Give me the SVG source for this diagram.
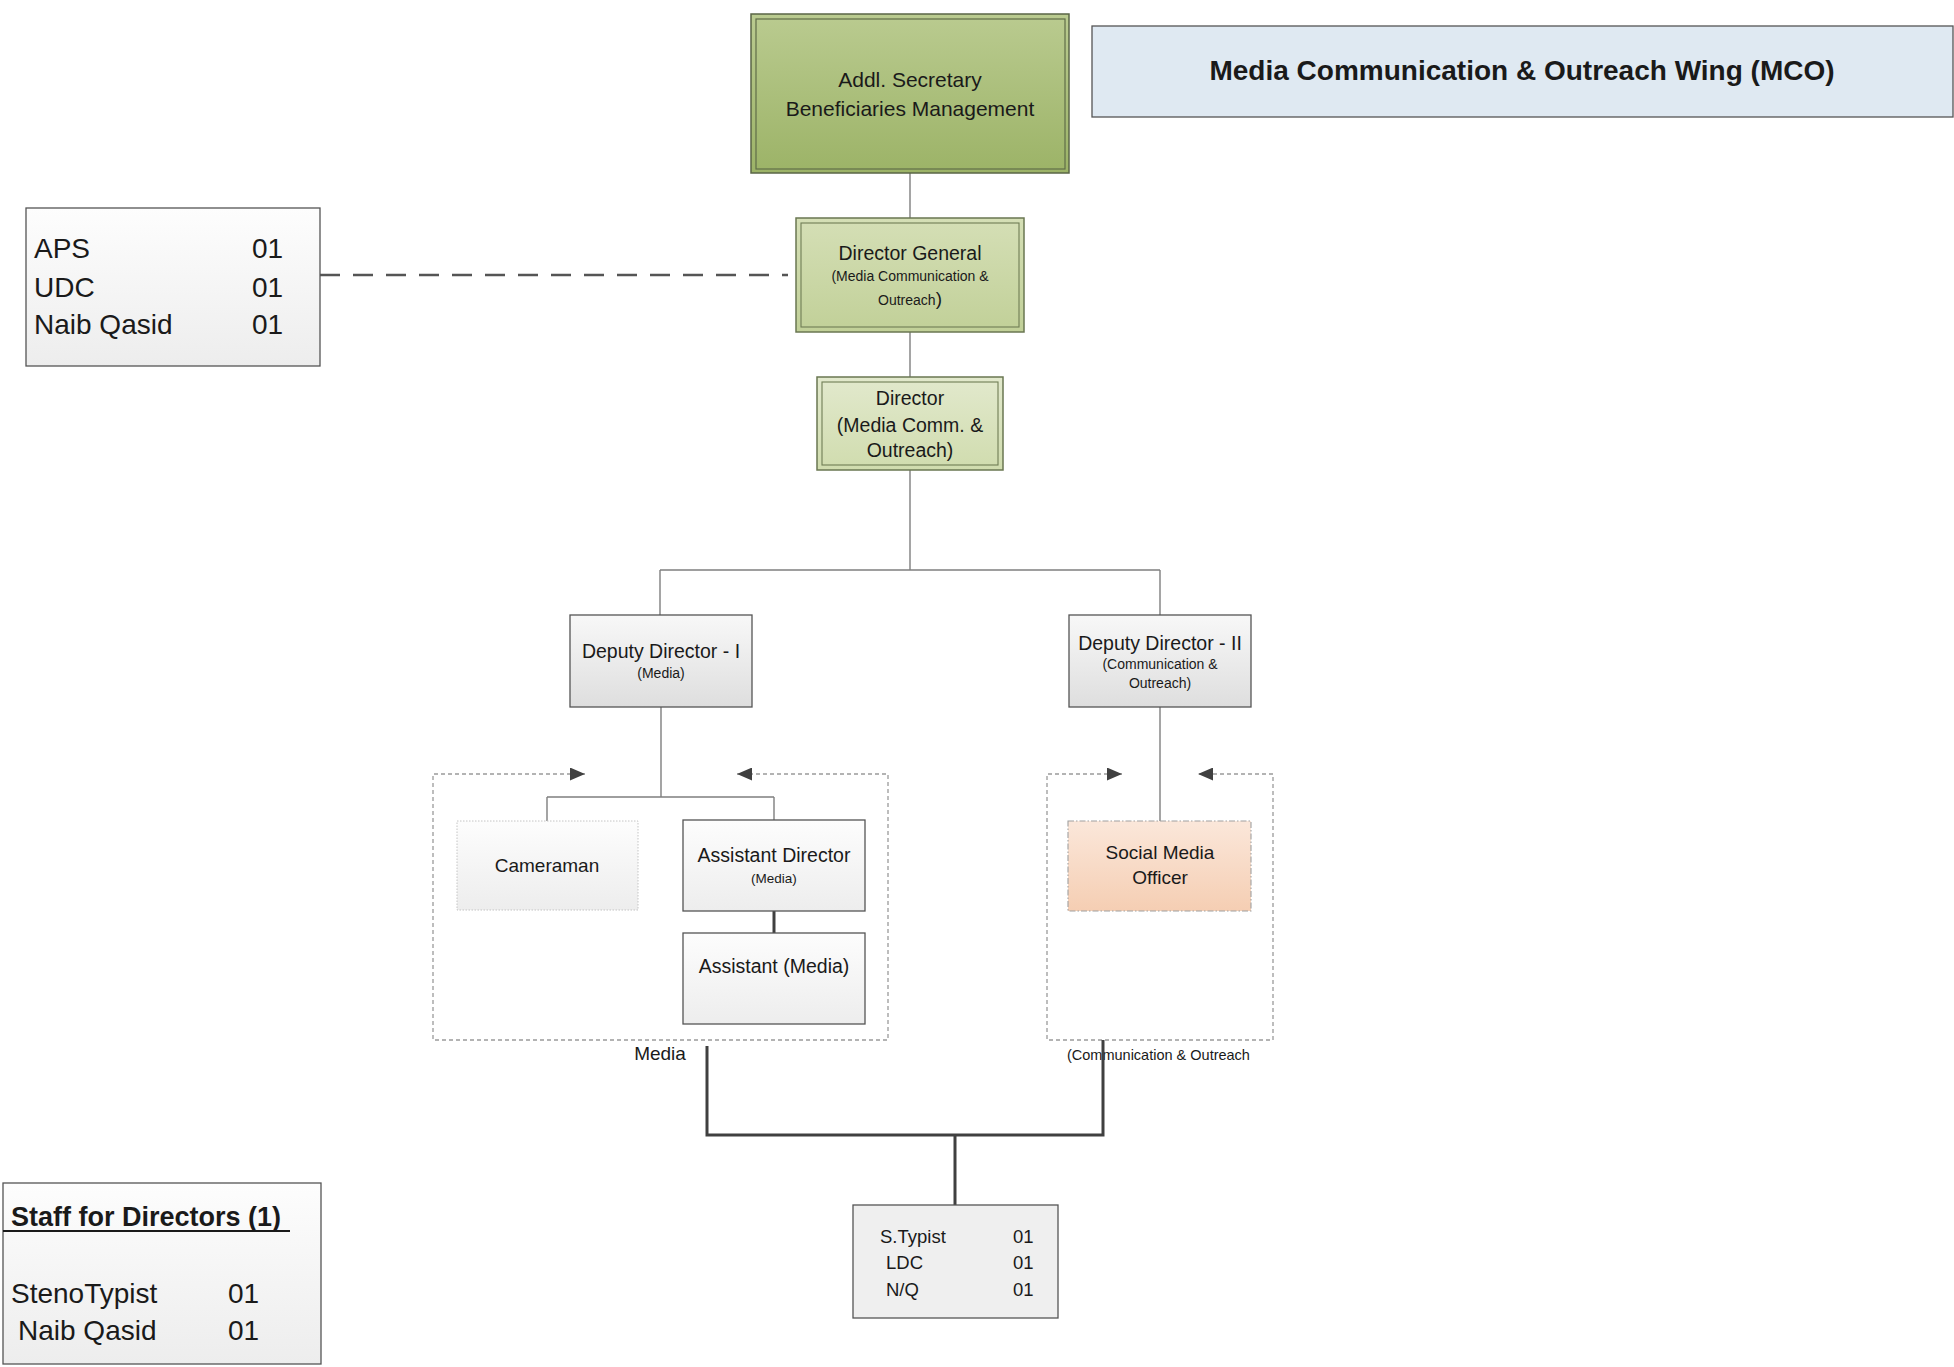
<svg xmlns="http://www.w3.org/2000/svg" width="1954" height="1367" viewBox="0 0 1954 1367">
<style>
text{font-family:"Liberation Sans",Arial,sans-serif;fill:#1a1a1a}
.c{text-anchor:middle}
.t19{font-size:19.5px}
.t14{font-size:14px}
.conn{fill:none;stroke:#7f7f7f;stroke-width:1.4}
.thick{fill:none;stroke:#404040;stroke-width:3}
.box{stroke:#555;stroke-width:1.3}
.grp{fill:none;stroke:#9a9a9a;stroke-width:1.3;stroke-dasharray:4 3}
</style>
<defs>
<linearGradient id="gTop" x1="0" y1="0" x2="0" y2="1"><stop offset="0" stop-color="#bacb90"/><stop offset="1" stop-color="#9cb367"/></linearGradient>
<linearGradient id="gDG" x1="0" y1="0" x2="0" y2="1"><stop offset="0" stop-color="#d5dfb6"/><stop offset="1" stop-color="#c1d098"/></linearGradient>
<linearGradient id="gDir" x1="0" y1="0" x2="0" y2="1"><stop offset="0" stop-color="#e2e9cd"/><stop offset="1" stop-color="#d0dcae"/></linearGradient>
<linearGradient id="gGray" x1="0" y1="0" x2="0" y2="1"><stop offset="0" stop-color="#f8f8f8"/><stop offset="1" stop-color="#dedede"/></linearGradient>
<linearGradient id="gLight" x1="0" y1="0" x2="0" y2="1"><stop offset="0" stop-color="#fdfdfd"/><stop offset="1" stop-color="#ededed"/></linearGradient>
<linearGradient id="gPeach" x1="0" y1="0" x2="0" y2="1"><stop offset="0" stop-color="#fbe7da"/><stop offset="1" stop-color="#f5ceb3"/></linearGradient>
<marker id="arr" markerUnits="userSpaceOnUse" markerWidth="15" markerHeight="13" refX="15" refY="6.5" orient="auto-start-reverse" viewBox="0 0 15 13">
<path d="M0,0 L15,6.5 L0,13 z" fill="#404040"/>
</marker>
</defs>
<rect width="1954" height="1367" fill="#fff"/>

<g id="title">
<rect x="1092" y="26" width="861" height="91" fill="#dfe9f2" stroke="#555" stroke-width="1.3"/>
<text x="1522" y="80" class="c" style="font-size:28px;font-weight:bold">Media Communication &amp; Outreach Wing (MCO)</text>
</g>

<g id="connectors">
<path class="conn" d="M910 173 V218 M910 332 V377 M910 470 V570 M660 570 H1160 M660 570 V615 M1160 570 V615"/>
<path class="conn" d="M661 707 V797 M547 797 H774 M547 797 V821 M774 797 V820"/>
<path class="conn" d="M1160 707 V821"/>
<path class="thick" d="M774 911 V933"/>
<path d="M320 275 H788" fill="none" stroke="#555" stroke-width="2.6" stroke-dasharray="20 13"/>
<path class="grp" d="M585 774 H433 V1040 H888 V774 H737" marker-start="url(#arr)" marker-end="url(#arr)"/>
<path class="grp" d="M1122 774 H1047 V1040 H1273 V774 H1198" marker-start="url(#arr)" marker-end="url(#arr)"/>
</g>

<g id="addl-secretary">
<rect x="751" y="14" width="318" height="159" fill="url(#gTop)" stroke="#5a6646" stroke-width="1.5"/>
<rect x="756" y="19" width="309" height="150" fill="none" stroke="#5f6d48" stroke-width="1.2"/>
<text x="910" y="87" class="c" style="font-size:21px">Addl. Secretary</text>
<text x="910" y="116" class="c" style="font-size:21px">Beneficiaries Management</text>
</g>

<g id="director-general">
<rect x="796" y="218" width="228" height="114" fill="url(#gDG)" stroke="#6a7752" stroke-width="1.5"/>
<rect x="801" y="223" width="218" height="104" fill="none" stroke="#6f7d55" stroke-width="1.1"/>
<text x="910" y="260" class="c" style="font-size:19.5px">Director General</text>
<text x="910" y="281" class="c t14">(Media Communication &amp;</text>
<text x="910" y="305" class="c t14">Outreach<tspan style="font-size:19px">)</tspan></text>
</g>

<g id="director">
<rect x="817" y="377" width="186" height="93" fill="url(#gDir)" stroke="#6a7752" stroke-width="1.5"/>
<rect x="822" y="382" width="176" height="83" fill="none" stroke="#6f7d55" stroke-width="1.1"/>
<text x="910" y="405" class="c t19">Director</text>
<text x="910" y="432" class="c t19">(Media Comm. &amp;</text>
<text x="910" y="457" class="c t19">Outreach)</text>
</g>

<g id="aps-box">
<rect x="26" y="208" width="294" height="158" fill="url(#gLight)" class="box"/>
<text x="34" y="258" style="font-size:28px">APS</text>
<text x="252" y="258" style="font-size:28px">01</text>
<text x="34" y="297" style="font-size:28px">UDC</text>
<text x="252" y="297" style="font-size:28px">01</text>
<text x="34" y="334" style="font-size:28px">Naib Qasid</text>
<text x="252" y="334" style="font-size:28px">01</text>
</g>

<g id="deputy-director-1">
<rect x="570" y="615" width="182" height="92" fill="url(#gGray)" class="box"/>
<text x="661" y="658" class="c t19">Deputy Director - I</text>
<text x="661" y="678" class="c t14">(Media)</text>
</g>

<g id="deputy-director-2">
<rect x="1069" y="615" width="182" height="92" fill="url(#gGray)" class="box"/>
<text x="1160" y="650" class="c t19">Deputy Director - II</text>
<text x="1160" y="669" class="c t14">(Communication &amp;</text>
<text x="1160" y="688" class="c t14">Outreach)</text>
</g>

<g id="cameraman">
<rect x="457" y="821" width="181" height="89" fill="url(#gLight)" stroke="#c4c4c4" stroke-width="1" stroke-dasharray="1.5 1.5"/>
<text x="547" y="872" class="c" style="font-size:19px">Cameraman</text>
</g>

<g id="assistant-director">
<rect x="683" y="820" width="182" height="91" fill="url(#gLight)" class="box"/>
<text x="774" y="862" class="c t19">Assistant Director</text>
<text x="774" y="883" class="c" style="font-size:13.5px">(Media)</text>
</g>

<g id="assistant-media">
<rect x="683" y="933" width="182" height="91" fill="url(#gLight)" class="box"/>
<text x="774" y="973" class="c t19">Assistant (Media)</text>
</g>

<g id="social-media-officer">
<rect x="1068" y="821" width="183" height="90" fill="url(#gPeach)" stroke="#a0a0a0" stroke-width="1.1" stroke-dasharray="6 2 1.5 2"/>
<text x="1160" y="859" class="c" style="font-size:19px">Social Media</text>
<text x="1160" y="884" class="c" style="font-size:19px">Officer</text>
</g>

<g id="group-labels">
<text x="660" y="1060" class="c" style="font-size:19px">Media</text>
<text x="1067" y="1060" style="font-size:14.5px">(Communication &amp; Outreach</text>
</g>

<g id="staff-connectors">
<path class="thick" d="M707 1046 V1135 H1103 V1040 M955 1135 V1205"/>
</g>

<g id="staff-box">
<rect x="853" y="1205" width="205" height="113" fill="#efefef" class="box"/>
<text x="880" y="1243" style="font-size:18.5px">S.Typist</text>
<text x="1013" y="1243" style="font-size:18.5px">01</text>
<text x="886" y="1269" style="font-size:18.5px">LDC</text>
<text x="1013" y="1269" style="font-size:18.5px">01</text>
<text x="886" y="1296" style="font-size:18.5px">N/Q</text>
<text x="1013" y="1296" style="font-size:18.5px">01</text>
</g>

<g id="staff-for-directors">
<rect x="3" y="1183" width="318" height="181" fill="url(#gLight)" class="box"/>
<text x="11" y="1226" style="font-size:27px;font-weight:bold">Staff for Directors (1)</text>
<line x1="3" y1="1231" x2="290" y2="1231" stroke="#1a1a1a" stroke-width="2"/>
<text x="11" y="1303" style="font-size:28px">StenoTypist</text>
<text x="228" y="1303" style="font-size:28px">01</text>
<text x="18" y="1340" style="font-size:28px">Naib Qasid</text>
<text x="228" y="1340" style="font-size:28px">01</text>
</g>
</svg>
